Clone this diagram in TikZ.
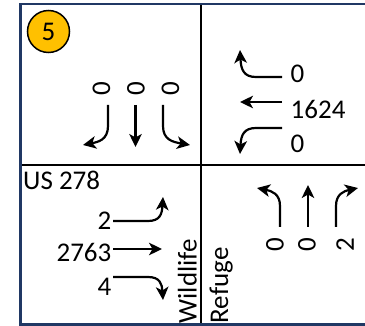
\documentclass[tikz,border=0pt]{standalone}
\usepackage{fontspec}
\setmainfont{Carlito}
\usetikzlibrary{arrows.meta, positioning, calc}

\definecolor{framenavy}{HTML}{203864}
\definecolor{badgegold}{HTML}{FFC000}

\begin{document}
\begin{tikzpicture}[x=1pt, y=-1pt,
  >={Stealth[length=13pt, width=12.5pt, inset=3.5pt]},
  vol/.style={inner sep=0pt, font=\fontsize{27}{32}\selectfont},
  mvt/.style={->, line width=2.2pt},
  grid/.style={line width=1.3pt, black}]

\useasboundingbox (0,0) rectangle (365,326);

% -----------------------------------------------------
%  FRAME AND QUADRANTS
% -----------------------------------------------------
\coordinate (tl) at (20.5,4);
\coordinate (bl) at (20.5,324.5);
\coordinate (tr) at (365,4);
\coordinate (br) at (365,324.5);

\draw[grid] (201,4) -- (201,324.5);
\draw[grid] (20.5,165) -- (365,165);
\draw[framenavy, line width=2.2pt] (tr) -- (tl) -- (bl) -- (br);

% Intersection number
\node[circle, draw, line width=1.5pt, fill=badgegold, minimum size=42pt,
      vol] (num) at (48.5,31.5) {5};

% -----------------------------------------------------
%  SOUTHBOUND (top left)
% -----------------------------------------------------
\foreach \v [count=\i] in {0,0,0}{
  \node[vol, rotate=90] (sb\i) at ({67+34.5*\i},88.5) {\v};
}

\draw[mvt] (108,105) -- (108,126) .. controls (108,140) and (98,142) .. (83,145);
\draw[mvt] (135.5,105) -- (135.5,147);
\draw[mvt] (163,105) -- (163,126) .. controls (163,140) and (173,142) .. (190,145);

% -----------------------------------------------------
%  WESTBOUND (top right)
% -----------------------------------------------------
\node[vol, anchor=west] (wbL) at (290.5,73.5) {0};
\node[vol, below=35.5pt of wbL.west, anchor=west] (wbT) {1624};
\node[vol, below=34.5pt of wbT.west, anchor=west] (wbR) {0};

\draw[mvt] (282,77) -- (256,77) .. controls (244,77) and (241,70) .. (240,50);
\draw[mvt] (282,102) -- (240,102);
\draw[mvt] (282,128) -- (256,128) .. controls (244,128) and (241,135) .. (240,154);

% -----------------------------------------------------
%  EASTBOUND (bottom left)
% -----------------------------------------------------
\node[vol, anchor=west] (road) at (23,180.5) {US 278};

\node[vol, anchor=east] (ebL) at (111.5,221) {2};
\node[vol, below=31pt of ebL.east, anchor=east] (ebT) {2763};
\node[vol, below=35pt of ebT.east, anchor=east] (ebR) {4};

\draw[mvt] (113,221) -- (148,221) .. controls (160,221) and (162,214) .. (163,197);
\draw[mvt] (113,249) -- (162,249);
\draw[mvt] (113,277) -- (148,277) .. controls (160,277) and (162,284) .. (163,300);

% Side street name
\node[vol, rotate=90, anchor=base west] (side1) at (196.5,323.5) {Wildlife};
\node[vol, rotate=90, anchor=base west] (side2) at (228,323.5) {Refuge};

% -----------------------------------------------------
%  NORTHBOUND (bottom right)
% -----------------------------------------------------
\foreach \v/\x [count=\i] in {0/275,0/307,2/345}{
  \node[vol, rotate=90] (nb\i) at (\x,245) {\v};
}

\draw[mvt] (280,227) -- (280,206) .. controls (280,194) and (272,191) .. (257,188);
\draw[mvt] (308,227) -- (308,185);
\draw[mvt] (336,227) -- (336,206) .. controls (336,194) and (344,191) .. (358,188);

\end{tikzpicture}
\end{document}
